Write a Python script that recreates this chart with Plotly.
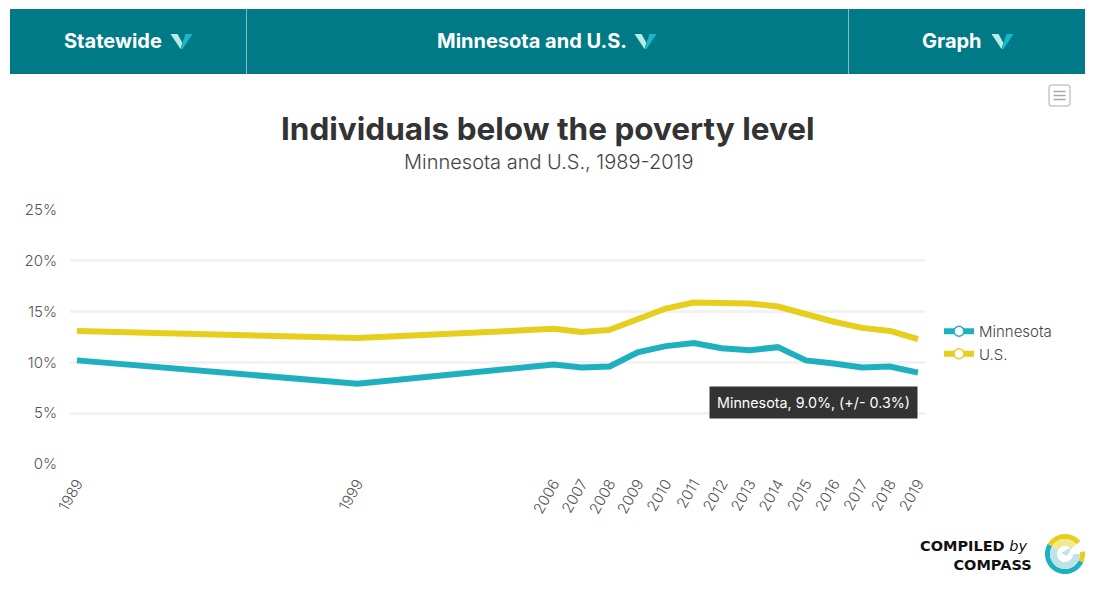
import math
import plotly.graph_objects as go

years = [1989, 1999, 2006, 2007, 2008, 2009, 2010, 2011, 2012, 2013, 2014, 2015, 2016, 2017, 2018, 2019]
minnesota = [10.2, 7.9, 9.8, 9.5, 9.6, 11.0, 11.6, 11.9, 11.4, 11.2, 11.5, 10.2, 9.9, 9.5, 9.6, 9.0]
us = [13.1, 12.4, 13.3, 13.0, 13.2, 14.3, 15.3, 15.9, 15.9, 15.8, 15.5, 14.7, 14.0, 13.4, 13.1, 12.3]
y_ticks = [0, 5, 10, 15, 20, 25]
title = "Individuals below the poverty level"
subtitle = "Minnesota and U.S., 1989-2019"
tabs = ["Statewide", "Minnesota and U.S.", "Graph"]
tooltip = "Minnesota, 9.0%, (+/- 0.3%)"

W, H = 1094, 593
L, R, T, B = 70, 925, 210, 464
TEAL, GOLD = "#1FB0C0", "#E6CE1C"
FONT = "Inter"


def px(x):
    return (x - L) / (R - L)


def py(y):
    return (B - y) / (B - T)


def poly(points, color):
    d = "M " + " L ".join(f"{px(x):.5f},{py(y):.5f}" for x, y in points) + " Z"
    return dict(type="path", xref="paper", yref="paper", path=d,
                fillcolor=color, line=dict(width=0), layer="above")


def rect(x0, y0, x1, y1, fill, line=None, lw=0):
    return dict(type="rect", xref="paper", yref="paper", x0=px(x0), x1=px(x1), y0=py(y0), y1=py(y1),
                fillcolor=fill, line=dict(color=line or fill, width=lw), layer="below")


def arc(cx, cy, r0, r1, a0, a1, color):
    n = 40
    angles = [math.radians(a0 + (a1 - a0) * i / n) for i in range(n + 1)]
    outer = [(cx + r1 * math.cos(a), cy - r1 * math.sin(a)) for a in angles]
    inner = [(cx + r0 * math.cos(a), cy - r0 * math.sin(a)) for a in reversed(angles)]
    return poly(outer + inner, color)


def label(x, y, text, size, color="#333333", anchor="center", family=FONT, weight=None):
    f = dict(size=size, color=color, family=family)
    if weight:
        f["weight"] = weight
    return dict(xref="paper", yref="paper", x=px(x), y=py(y), text=text, showarrow=False,
                xanchor=anchor, yanchor="middle", font=f)


shapes = [rect(10, 9, 1085, 74, "#007A87"),
          rect(246, 9, 247, 74, "#8FB9BF"),
          rect(848, 9, 849, 74, "#8FB9BF")]

logo_text = label(1034, 555, "<b>COMPILED</b> <i>by</i>&nbsp;<br><b>COMPASS</b>", 14.5, "#111111", "right",
                  family="DejaVu Sans")
logo_text["align"] = "right"

annotations = [
    label(112.5, 41, tabs[0], 20, "white", weight=700),
    label(532, 41, tabs[1], 20, "white", weight=700),
    label(951.5, 41, tabs[2], 20, "white", weight=700),
    label(547.5, 129, title, 31.5, "#333333", weight=700),
    label(548, 162, subtitle, 20, "#444444", weight=300),
    logo_text,
]

for cx in (181.5, 645.5, 1002.5):
    shapes.append(poly([(cx - 11, 34), (cx - 4, 34), (cx + 1, 43), (cx - 1, 49)], "#B5EDE6"))
    shapes.append(poly([(cx + 11, 34), (cx + 4, 34), (cx - 1, 49), (cx + 1, 49)], "#19B7C8"))

# menu button (rounded outline)
bx0, bx1, by0, by1, rad = px(1049), px(1070), py(85), py(106), 3
rx, ry = rad / (R - L), rad / (B - T)
btn = (f"M {bx0 + rx:.5f},{by0:.5f} L {bx1 - rx:.5f},{by0:.5f} Q {bx1:.5f},{by0:.5f} {bx1:.5f},{by0 - ry:.5f} "
       f"L {bx1:.5f},{by1 + ry:.5f} Q {bx1:.5f},{by1:.5f} {bx1 - rx:.5f},{by1:.5f} "
       f"L {bx0 + rx:.5f},{by1:.5f} Q {bx0:.5f},{by1:.5f} {bx0:.5f},{by1 + ry:.5f} "
       f"L {bx0:.5f},{by0 - ry:.5f} Q {bx0:.5f},{by0:.5f} {bx0 + rx:.5f},{by0:.5f} Z")
shapes.append(dict(type="path", xref="paper", yref="paper", path=btn,
                   fillcolor="white", line=dict(color="#C8C8C8", width=1.5), layer="above"))
for yy in (91.5, 95.5, 99.5):
    shapes.append(dict(type="line", xref="paper", yref="paper", x0=px(1053.5), x1=px(1065.5), y0=py(yy), y1=py(yy),
                       line=dict(color="#A8A8A8", width=1.5), layer="above"))

# logo
LX, LY = 1065, 554
shapes += [
    arc(LX, LY, 15, 20, 40, 150, GOLD),
    arc(LX, LY, 8, 15, 40, 150, "#F3E88E"),
    arc(LX, LY, 15, 20, 150, 335, TEAL),
    arc(LX, LY, 15, 20, -25, 8, GOLD),
    arc(LX, LY, 8, 15, 150, 360, "#BCE4E8"),
    poly([(1072, 547), (1061, 553), (1067, 556)], "#BCE4E8"),
]

fig = go.Figure()
fig.add_trace(go.Scatter(x=years, y=minnesota, mode="lines", name="Minnesota", showlegend=False,
                         line=dict(color=TEAL, width=6), hoverinfo="skip"))
fig.add_trace(go.Scatter(x=years, y=us, mode="lines", name="U.S.", showlegend=False,
                         line=dict(color=GOLD, width=6), hoverinfo="skip"))
for name, color in (("Minnesota", TEAL), ("U.S.", GOLD)):
    fig.add_trace(go.Scatter(x=[None], y=[None], mode="lines+markers", name=name,
                             line=dict(color=color, width=6),
                             marker=dict(size=10, color="white", line=dict(color=color, width=1.5))))

annotations.append(dict(x=years[-1], y=minnesota[-1], xref="x", yref="y", text=tooltip, showarrow=False,
                        xanchor="right", yanchor="top", yshift=-13, xshift=0,
                        bgcolor="#333333", borderpad=7, font=dict(size=14.3, color="white", family=FONT)))

step = (R - L - 14) / (years[-1] - years[0])
pad = 7 / step
tickfont = dict(size=15, color="#555555", weight=300)
fig.update_layout(
    width=W, height=H, autosize=False,
    margin=dict(l=L, r=W - R, t=T, b=H - B, pad=0),
    paper_bgcolor="white", plot_bgcolor="white",
    font=dict(family=FONT, color="#555555", size=15),
    shapes=shapes, annotations=annotations, hovermode=False,
    legend=dict(x=px(939), y=py(315), xanchor="left", yanchor="top",
                font=dict(size=15, color="#444444", weight=300),
                bgcolor="rgba(0,0,0,0)", itemwidth=30, tracegroupgap=0),
    xaxis=dict(range=[years[0] - pad, years[-1] + pad], tickmode="array", tickvals=years,
               ticktext=[str(v) for v in years], tickangle=-60, showgrid=False, zeroline=False,
               showline=False, ticks="", ticklabelstandoff=7, tickfont=tickfont),
    yaxis=dict(range=[0, 25], tickmode="array", tickvals=y_ticks, ticktext=[f"{v}%" for v in y_ticks],
               showgrid=True, gridcolor="#F2F2F2", gridwidth=3, zeroline=False, showline=False,
               ticks="", ticklabelstandoff=12, tickfont=tickfont),
)
fig.write_html("out.html", config=dict(displayModeBar=False),
               post_script="document.body.style.margin='0';")
